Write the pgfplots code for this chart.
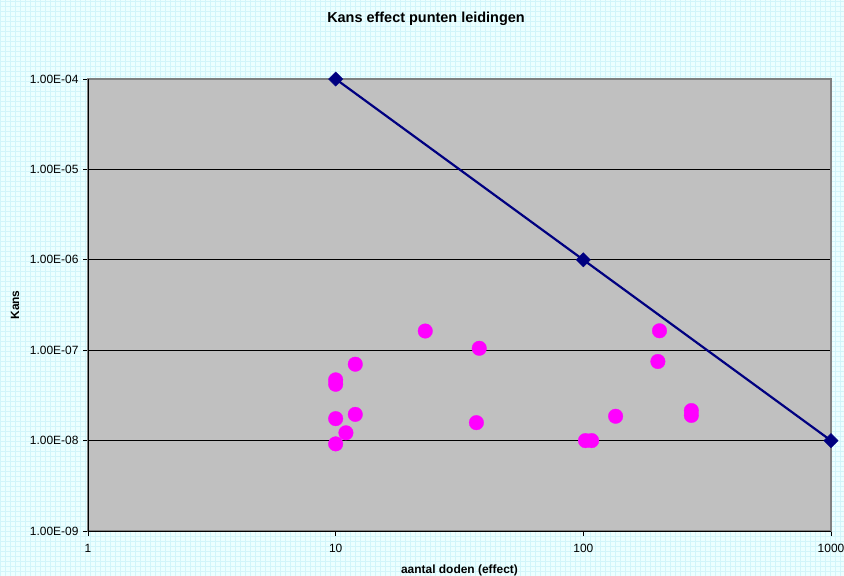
\documentclass[border=0pt]{standalone}
\usepackage{pgfplots}
\pgfplotsset{compat=1.18}
\usepackage{fontspec}
\setmainfont{Liberation Sans}
\definecolor{bgcyan}{RGB}{236,255,255}
\definecolor{bggrid}{RGB}{210,245,250}
\definecolor{plotgray}{RGB}{192,192,192}
\definecolor{axgray}{RGB}{128,128,128}
\definecolor{navyline}{RGB}{0,0,128}
\definecolor{mag}{RGB}{255,0,255}
\begin{document}
\begin{tikzpicture}
\useasboundingbox (0,0) rectangle (844bp,576bp);
\fill[bgcyan] (0,0) rectangle (844bp,576bp);
\draw[bggrid, line width=0.5bp, step=5bp] (0,0) grid (844bp,576bp);
\begin{axis}[
  at={(88bp,45bp)}, anchor=south west,
  scale only axis, width=743bp, height=452bp,
  xmode=log, ymode=log,
  xmin=1, xmax=1000, ymin=1e-9, ymax=1e-4,
  axis background/.style={fill=plotgray},
  axis line style={draw=axgray, line width=2.5bp},
  ymajorgrids, xmajorgrids=false,
  major grid style={black, line width=0.8bp},
  xminorticks=false, yminorticks=false,
  xtick pos=bottom, ytick pos=left,
  tick align=outside, major tick length=5bp,
  tick style={black, line width=0.8bp},
  xtick={1,10,100,1000},
  xticklabels={1,10,100,1000},
  ytick={1e-9,1e-8,1e-7,1e-6,1e-5,1e-4},
  yticklabels={1.00E-09,1.00E-08,1.00E-07,1.00E-06,1.00E-05,1.00E-04},
  ticklabel style={font=\fontsize{12}{13}\selectfont},
  xticklabel style={yshift=-5bp},
  yticklabel style={xshift=-1bp},
  title={Kans effect punten leidingen},
  title style={font=\bfseries\fontsize{14.5}{16}\selectfont, at={(axis description cs:0.4549,1.1327)}, anchor=center, yshift=-6pt},
  xlabel={aantal doden (effect)},
  xlabel style={font=\bfseries\fontsize{12}{13}\selectfont, at={(axis description cs:0.5,-0.0863)}, anchor=center},
  ylabel={Kans},
  ylabel style={font=\bfseries\fontsize{12}{13}\selectfont, at={(axis description cs:-0.0983,0.5)}, anchor=center},
  clip=false,
]
\addplot[only marks, mark=*, mark size=7.3bp, mark options={fill=mag, draw=mag, line width=0.3bp}] coordinates {
(23,1.63e-7)
(38,1.05e-7)
(12,7e-8)
(10,4.7e-8)
(10,4.2e-8)
(10,1.75e-8)
(12,1.95e-8)
(11,1.22e-8)
(10,9.2e-9)
(37,1.58e-8)
(203,1.64e-7)
(200,7.5e-8)
(135,1.86e-8)
(102,1.0e-8)
(108,1.0e-8)
(273,2.15e-8)
(273,1.9e-8)
};
\addplot[navyline, line width=2.2bp, mark=square*, mark size=5bp, mark options={rotate=45, solid, fill=navyline, draw=navyline, line width=0.5bp}] coordinates {(10,1e-4)(100,1e-6)(1000,1e-8)};
\draw[black, line width=1bp] (rel axis cs:0,1) -- (rel axis cs:0,0) -- (rel axis cs:1,0);
\end{axis}
\end{tikzpicture}
\end{document}
